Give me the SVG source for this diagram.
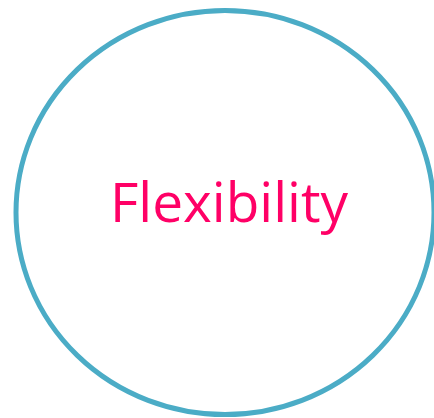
<svg xmlns="http://www.w3.org/2000/svg" width="434" height="418" viewBox="0 0 434 418">
<style>
.ring{fill:none;stroke:#4BACC6;stroke-width:5}
.lbl{font-family:"Open Sans","Liberation Sans",sans-serif;font-size:55px;fill:#FF0066}
</style>
<rect width="434" height="418" fill="#FFFFFF"/>
<g id="flexibility">
<ellipse class="ring" cx="225" cy="212.5" rx="209" ry="202"/>
<text class="lbl" x="110" y="222" textLength="238" lengthAdjust="spacingAndGlyphs">Flexibility</text>
</g>
</svg>
